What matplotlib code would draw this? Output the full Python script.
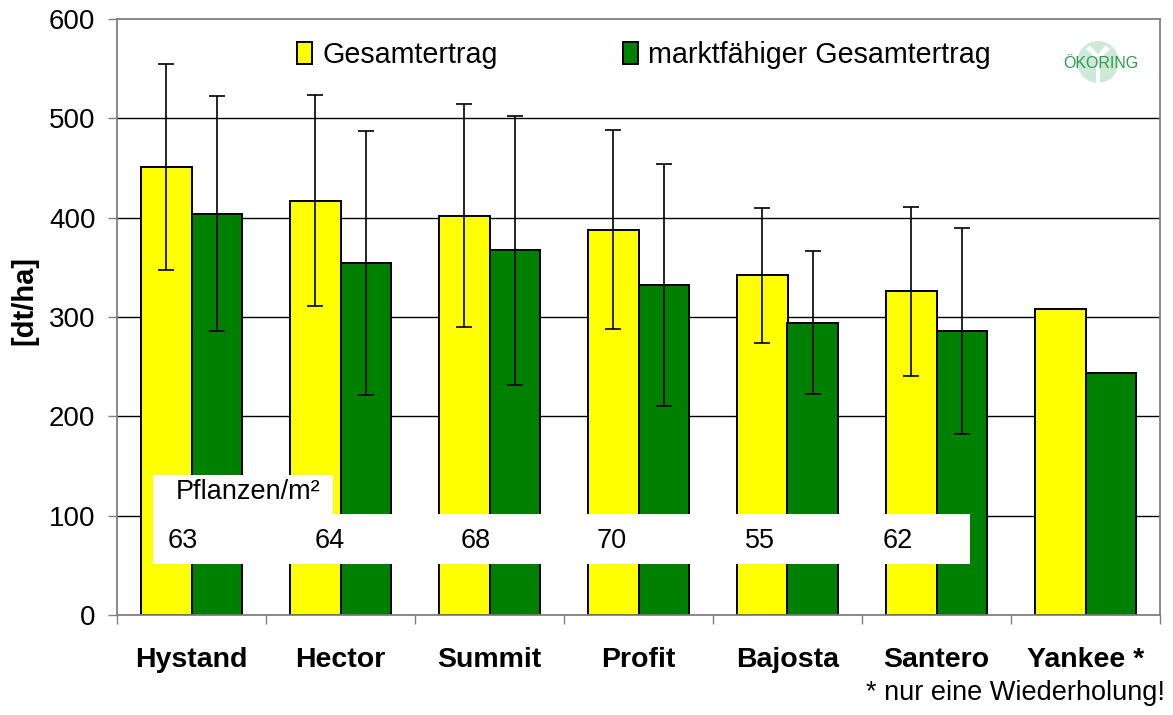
import numpy as np
import matplotlib
matplotlib.use("Agg")
import matplotlib.pyplot as plt
from matplotlib.patches import Rectangle, Circle, Polygon

plt.rcParams['font.family'] = ['Liberation Sans', 'DejaVu Sans']

# ---- data ----
categories = ["Hystand", "Hector", "Summit", "Profit", "Bajosta", "Santero", "Yankee *"]
gesamt = [451, 417, 402, 388, 342, 326, 308]
gesamt_err = [104, 106, 112, 100, 68, 85, 0]
markt = [404, 354, 367, 332, 294, 286, 244]
markt_err = [118, 133, 135, 122, 72, 104, 0]
pflanzen = ["63", "64", "68", "70", "55", "62"]
legend_labels = ["Gesamtertrag", "marktfähiger Gesamtertrag"]
yticks = [0, 100, 200, 300, 400, 500, 600]

# ---- layout ----
pflanzen_offsets = [-0.158, -0.171, -0.191, -0.279, -0.285, -0.359]
W, H = 1173, 715
fig = plt.figure(figsize=(W / 100, H / 100), dpi=100)
ax = fig.add_axes([117 / W, 1 - 615 / H, (1160 - 117) / W, (615 - 19) / H])

x = np.arange(len(categories))
bw = 0.3356
yellow = "#FFFF00"
green = "#008000"
gray = "#808080"

ax.bar(x - bw / 2, gesamt, bw, color=yellow, edgecolor="black", linewidth=1.4, zorder=2,
       label=legend_labels[0])
ax.bar(x + bw / 2, markt, bw, color=green, edgecolor="black", linewidth=1.4, zorder=2,
       label=legend_labels[1])

idx = [i for i in range(len(categories)) if gesamt_err[i] > 0]
ax.errorbar(x[idx] - bw / 2, np.array(gesamt)[idx], yerr=np.array(gesamt_err)[idx], fmt="none",
            ecolor="black", elinewidth=1.2, capsize=5.6, capthick=1.2, zorder=4)
idx = [i for i in range(len(categories)) if markt_err[i] > 0]
ax.errorbar(x[idx] + bw / 2, np.array(markt)[idx], yerr=np.array(markt_err)[idx], fmt="none",
            ecolor="black", elinewidth=1.2, capsize=5.6, capthick=1.2, zorder=4)

ax.set_xlim(-0.5, len(categories) - 0.5)
ax.set_ylim(0, 600)
ax.set_yticks(yticks)
ax.set_yticklabels([str(v) for v in yticks], fontsize=20)
for v in yticks[1:-1]:
    ax.axhline(v, color="black", linewidth=1.0, zorder=1)

ax.set_xticks(np.arange(-0.5, len(categories), 1))
ax.set_xticklabels([])
ax.set_xticks(x, minor=True)
ax.set_xticklabels(categories, minor=True, fontsize=20.5, fontweight="bold")
ax.tick_params(axis="x", which="minor", length=0, pad=23)
ax.tick_params(axis="x", which="major", direction="out", length=6.7, color=gray, width=1.0)
ax.tick_params(axis="y", direction="out", length=6.5, color=gray, width=1.0, pad=9)
for s in ax.spines.values():
    s.set_color(gray)
    s.set_linewidth(1.3)

ax.set_ylabel("[dt/ha]", fontsize=21, fontweight="bold", va="center")
ax.yaxis.set_label_coords(-0.089, 0.528)

# white boxes with plant density
ax.add_patch(Rectangle((-0.258, 101.7), 0.950 + 0.258, 140.9 - 101.7, facecolor="white",
                       edgecolor="none", zorder=5))
ax.add_patch(Rectangle((-0.258, 51.3), 5.225 + 0.258, 101.7 - 51.3, facecolor="white",
                       edgecolor="none", zorder=5))
ax.text(-0.258 + 0.15, 123.8, "Pflanzen/m²", fontsize=19.5, ha="left", va="center", zorder=6)
for i, (lab, off) in enumerate(zip(pflanzen, pflanzen_offsets)):
    ax.text(i + off, 74.5, lab, fontsize=19.5, ha="left", va="center", zorder=6)

leg = ax.legend(loc="center left", bbox_to_anchor=(0.1726, 0.9396), ncol=2, frameon=False,
                fontsize=20.6, handlelength=0.54, handleheight=0.8, handletextpad=0.36,
                columnspacing=4.35, borderpad=0, borderaxespad=0)

fig.text(1165 / W, 1 - 693 / H, "* nur eine Wiederholung!", fontsize=19.5, ha="right", va="center")

# logo
lax = fig.add_axes([(1098 - 22) / W, 1 - (62 + 22) / H, 44 / W, 44 / H])
lax.set_xlim(-1, 1)
lax.set_ylim(-1, 1)
lax.set_aspect("equal")
lax.axis("off")
lax.add_patch(Circle((0, 0), 0.95, facecolor="#cfe9d8", edgecolor="none"))
lax.add_patch(Polygon([(-0.55, 0.6), (0, 0.05), (0.55, 0.6), (0.35, 0.75), (0, 0.35), (-0.35, 0.75)],
                      closed=True, facecolor="white", edgecolor="none"))
lax.add_patch(Rectangle((-0.09, -0.95), 0.18, 1.0, facecolor="white", edgecolor="none"))
fig.text(1101 / W, 1 - 63 / H, "ÖKORING", fontsize=11.5, color="#2e9a4e", ha="center", va="center")

fig.savefig("out.png", dpi=100)
